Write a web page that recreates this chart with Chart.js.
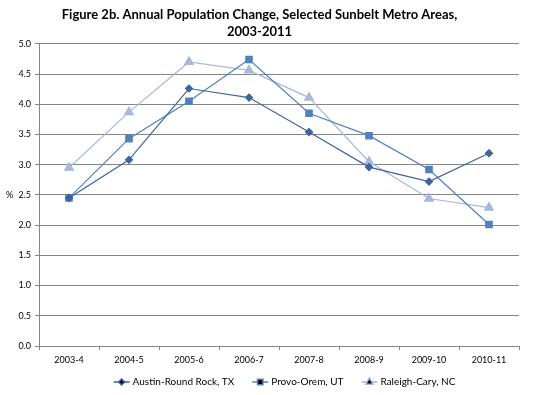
<!DOCTYPE html>
<html>
<head>
<meta charset="utf-8">
<script src="https://cdn.jsdelivr.net/npm/chart.js@4"></script>
<style>
  html, body { margin: 0; padding: 0; background: #fff; }
  #wrap { width: 545px; height: 395px; }
</style>
</head>
<body>
<div id="wrap"><canvas id="chart" width="545" height="395"></canvas></div>
<script>
const periods = ['2003-4', '2004-5', '2005-6', '2006-7', '2007-8', '2008-9', '2009-10', '2010-11'];
const austin = [2.45, 3.08, 4.26, 4.11, 3.54, 2.96, 2.72, 3.19];
const provo = [2.45, 3.43, 4.05, 4.74, 3.85, 3.48, 2.92, 2.01];
const raleigh = [2.95, 3.87, 4.70, 4.56, 4.11, 3.05, 2.44, 2.29];
const seriesNames = ['Austin-Round Rock, TX', 'Provo-Orem, UT', 'Raleigh-Cary, NC'];

const FONT = 'Lato, "Open Sans", sans-serif';

// "%" label sits left of the y axis, unrotated
const percentLabel = {
    id: 'percentLabel',
    afterDraw(chart) {
        const { ctx } = chart;
        const y = chart.scales.y;
        ctx.save();
        ctx.font = '9px ' + FONT;
        ctx.fillStyle = '#000';
        ctx.textAlign = 'left';
        ctx.textBaseline = 'middle';
        ctx.fillText('%', 6, y.getPixelForValue(2.5));
        ctx.restore();
    }
};

// Excel-like legend: short line with the marker on it
const lineLegend = {
    id: 'lineLegend',
    afterDraw(chart) {
        const { ctx } = chart;
        ctx.save();
        ctx.font = '10px ' + FONT;
        ctx.textBaseline = 'middle';
        const gap = 18, lineW = 16;
        const widths = chart.data.datasets.map(ds => lineW + 3 + ctx.measureText(ds.label).width);
        const total = widths.reduce((a, b) => a + b, 0) + gap * (widths.length - 1);
        let x = (chart.width - total) / 2 + 12;
        const y = 382;
        chart.data.datasets.forEach((ds, i) => {
            ctx.strokeStyle = ds.borderColor;
            ctx.lineWidth = 1.5;
            ctx.beginPath();
            ctx.moveTo(x, y);
            ctx.lineTo(x + lineW, y);
            ctx.stroke();
            Chart.helpers.drawPoint(ctx, {
                pointStyle: ds.pointStyle,
                radius: ds.pointRadius * 0.85,
                borderWidth: 1
            }, x + lineW / 2, y);
            ctx.fillStyle = '#000';
            ctx.fillText(ds.label, x + lineW + 3, y);
            x += widths[i] + gap;
        });
        ctx.restore();
    }
};

function series(label, data, color, style, radius) {
    return {
        label,
        data,
        borderColor: color,
        backgroundColor: color,
        pointBackgroundColor: color,
        pointBorderColor: color,
        pointStyle: style,
        pointRadius: radius,
        pointHoverRadius: radius,
        borderWidth: 1.2,
        tension: 0
    };
}

new Chart(document.getElementById('chart').getContext('2d'), {
    type: 'line',
    data: {
        labels: periods,
        datasets: [
            series(seriesNames[0], austin, '#3D63A0', 'rectRot', 3.5),
            series(seriesNames[1], provo, '#4F81BD', 'rect', 4.5),
            series(seriesNames[2], raleigh, '#A7B9DA', 'triangle', 5)
        ]
    },
    options: {
        responsive: false,
        animation: false,
        devicePixelRatio: 1,
        layout: { padding: { left: 0, right: 26, top: 0, bottom: 0 } },
        scales: {
            x: {
                offset: true,
                grid: {
                    offset: true,
                    drawOnChartArea: false,
                    drawTicks: true,
                    tickLength: 4,
                    color: '#868686'
                },
                border: { color: '#868686', width: 1 },
                ticks: {
                    color: '#000',
                    font: { family: FONT, size: 9 },
                    maxRotation: 0,
                    autoSkip: false,
                    padding: 5
                },
                afterFit(scale) { scale.height = 49; }
            },
            y: {
                min: 0,
                max: 5,
                ticks: {
                    stepSize: 0.5,
                    color: '#000',
                    font: { family: FONT, size: 9 },
                    padding: 4,
                    callback: v => v.toFixed(1)
                },
                grid: { color: '#868686', lineWidth: 1, tickLength: 4 },
                border: { color: '#868686', width: 1 },
                afterFit(scale) { scale.width = 39; }
            }
        },
        plugins: {
            legend: { display: false },
            tooltip: { enabled: false },
            title: {
                display: true,
                text: ['Figure 2b. Annual Population Change, Selected Sunbelt Metro Areas,', '2003-2011'],
                color: '#000',
                font: { family: FONT, size: 13, weight: 'bold', lineHeight: 1.3 },
                padding: { top: 6, bottom: 4 }
            }
        }
    },
    plugins: [percentLabel, lineLegend]
});
</script>
</body>
</html>
